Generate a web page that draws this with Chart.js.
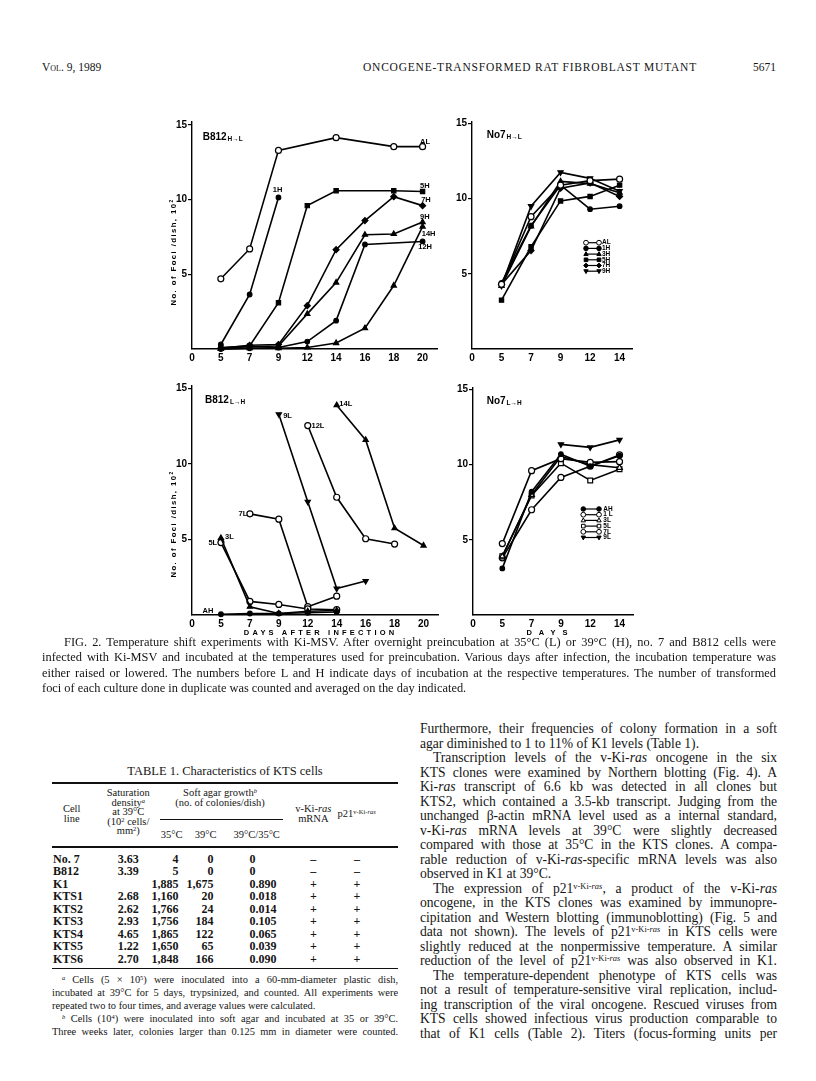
<!DOCTYPE html>
<html><head><meta charset="utf-8">
<script src="https://cdn.jsdelivr.net/npm/chart.js@4.4.0/dist/chart.umd.min.js"></script>
<style>
html,body{margin:0;padding:0;background:#fff;}
#page{position:relative;width:816px;height:1081px;overflow:hidden;background:#fff;color:#151515;font-family:'Liberation Serif','Times New Roman',serif;}
.t{position:absolute;white-space:nowrap;}
canvas{position:absolute;}
.ax{position:absolute;white-space:nowrap;font-family:'Liberation Sans',Arial,sans-serif;font-weight:bold;color:#000;}
.rule{position:absolute;background:#111;}
sup{font-size:62%;line-height:0;vertical-align:0.5em;}
</style></head><body><div id="page"></div>
<script>
const SANS = "'Liberation Sans', Arial, sans-serif";
Chart.defaults.font.family = SANS;
Chart.defaults.color = '#000';

// ---------- DATA ----------
const daysB812 = ['0','5','7','9','12','14','16','18','20'];
const daysNo7  = ['0','5','7','9','12','14'];

// B812 H->L  (days 5,7,9,12,14,16,18,20)
const b812HL_AL  = [4.7, 6.7, 13.3, null, 14.15, null, 13.55, 13.55];
const b812HL_1H  = [0.3, 3.65, 10.15, null, null, null, null, null];
const b812HL_5H  = [0.1, 0.2, 3.1, 9.6, 10.6, null, 10.6, 10.55];
const b812HL_7H  = [0.05, 0.25, 0.3, 2.9, 6.65, 8.6, 10.2, 9.6];
const b812HL_9H  = [0.05, 0.15, 0.2, 2.35, 4.45, 7.65, 7.7, 8.5];
const b812HL_12H = [0.0, 0.05, 0.1, 0.5, 1.9, 7.0, null, 7.2];
const b812HL_14H = [0.0, 0.05, 0.05, 0.1, 0.4, 1.4, 4.25, 8.2];

// No7 H->L (days 5,7,9,12,14)
const no7HL_AL = [4.3, 8.8, 10.9, 11.2, 11.3];
const no7HL_1H = [4.4, 8.2, 10.9, 9.3, 9.5];
const no7HL_3H = [4.2, 8.15, 11.15, 11.0, 10.4];
const no7HL_5H = [3.25, 6.8, 9.85, 10.15, 10.9];
const no7HL_7H = [4.3, 6.55, 10.7, 11.05, 10.15];
const no7HL_9H = [4.2, 9.5, 11.75, 11.35, 10.5];

// B812 L->H (days 5,7,9,12,14,16,18,20)
const b812LH_AH  = [0.05, 0.1, 0.1, 0.15, 0.2, null, null, null];
const b812LH_3L  = [5.1, 0.55, 0.1, 0.25, 0.3, null, null, null];
const b812LH_5L  = [4.8, 0.9, 0.7, 0.4, 0.35, null, null, null];
const b812LH_7L  = [null, 6.7, 6.35, 0.55, 1.25, null, null, null];
const b812LH_9L  = [null, null, 13.3, 7.5, 1.75, 2.25, null, null];
const b812LH_12L = [null, null, null, 12.55, 7.8, 5.05, 4.7, null];
const b812LH_14L = [null, null, null, null, 13.9, 11.6, 5.75, 4.6];

// No7 L->H (days 5,7,9,12,14)
const no7LH_AH = [3.1, 8.2, 10.7, 9.9, 10.6];
const no7LH_1L = [4.75, 9.6, 10.4, 10.15, 10.2];
const no7LH_3L = [3.9, 8.0, 10.55, 10.0, 9.8];
const no7LH_5L = [3.9, 7.95, 10.1, 8.95, 9.7];
const no7LH_7L = [3.8, 7.0, 9.15, 9.9, 10.65];
const no7LH_9L = [null, null, 11.35, 11.15, 11.65];

const yTickStep = 5;

// ---------- helpers ----------
const page = document.getElementById('page');
const MK = {
  oc:{pointStyle:'circle', fill:'#fff', r:3},
  fc:{pointStyle:'circle', fill:'#000', r:2.3},
  ft:{pointStyle:'triangle', fill:'#000', r:3},
  fs:{pointStyle:'rect', fill:'#000', r:3},
  fd:{pointStyle:'rectRot', fill:'#000', r:3},
  fi:{pointStyle:'triangle', fill:'#000', r:3, rot:180},
  os:{pointStyle:'rect', fill:'#fff', r:3.4},
  ot:{pointStyle:'triangle', fill:'#fff', r:3.2}
};
function pts(vals){ return vals.map((v,i)=>({x:i+1, y:v})); }
function dataset(vals, mk){
  const m = MK[mk];
  return {data:pts(vals), borderColor:'#000', borderWidth:1.6, pointStyle:m.pointStyle,
    pointRadius:m.r, pointRotation:m.rot||0, pointBackgroundColor:m.fill, pointBorderColor:'#000',
    pointBorderWidth:1.2, spanGaps:true, tension:0, fill:false, clip:false};
}
function drawMarker(ctx, m, x, y, r){
  ctx.beginPath();
  const st = m.pointStyle;
  if (st==='circle') ctx.arc(x,y,r,0,Math.PI*2);
  else if (st==='rect'){ const s=r*0.75; ctx.rect(x-s,y-s,2*s,2*s); }
  else if (st==='rectRot'){ ctx.moveTo(x,y-r);ctx.lineTo(x+r,y);ctx.lineTo(x,y+r);ctx.lineTo(x-r,y);ctx.closePath(); }
  else if (st==='triangle'){ const d = m.rot ? -1 : 1; ctx.moveTo(x,y-d*r); ctx.lineTo(x+r*0.9,y+d*r*0.6); ctx.lineTo(x-r*0.9,y+d*r*0.6); ctx.closePath(); }
  ctx.fillStyle = m.fill; ctx.fill(); ctx.lineWidth = 1; ctx.strokeStyle = '#000'; ctx.stroke();
}
const panelDeco = {
  id:'panelDeco',
  afterDraw(chart, args, o){
    const {ctx, chartArea:a, scales:{x, y}} = chart;
    ctx.save();
    ctx.fillStyle = '#000'; ctx.textBaseline = 'middle';
    if (o.title){
      ctx.textAlign = 'left';
      ctx.font = 'bold 10px ' + SANS;
      const tx = a.left + o.tdx, ty = a.top + o.tdy;
      ctx.fillText(o.title[0], tx, ty);
      const w = ctx.measureText(o.title[0]).width;
      ctx.font = 'bold 6.5px ' + SANS;
      ctx.fillText(o.title[1], tx + w + 1, ty + 1.8);
    }
    ctx.font = 'bold 7.5px ' + SANS;
    (o.labels||[]).forEach(l=>{
      ctx.fillStyle = '#000';
      ctx.textAlign = l.a || 'left';
      ctx.fillText(l.t, x.getPixelForValue(l.x), y.getPixelForValue(l.y));
    });
    if (o.legend){
      const L = o.legend;
      ctx.font = 'bold 6.5px ' + SANS;
      L.items.forEach((it,i)=>{
        const yy = a.top + L.y0 + i*L.dy;
        ctx.beginPath(); ctx.strokeStyle='#000'; ctx.lineWidth=1.2;
        ctx.moveTo(a.left+L.x0, yy); ctx.lineTo(a.left+L.x1, yy); ctx.stroke();
        const m = MK[it.m];
        drawMarker(ctx, m, a.left+L.x0, yy, Math.min(m.r, 2.4));
        drawMarker(ctx, m, a.left+L.x1, yy, Math.min(m.r, 2.4));
        ctx.fillStyle='#000'; ctx.textAlign='left';
        ctx.fillText(it.t, a.left+L.xt, yy);
      });
    }
    ctx.restore();
  }
};
function panel(p){
  const c = document.createElement('canvas');
  c.width = p.w; c.height = p.h;
  c.style.left = p.left+'px'; c.style.top = p.top+'px';
  c.style.width = p.w+'px'; c.style.height = p.h+'px';
  page.appendChild(c);
  new Chart(c, {
    type:'line',
    data:{datasets:p.series.map(s=>dataset(s.v, s.m))},
    options:{
      responsive:false, animation:false, devicePixelRatio:1, events:[],
      layout:{padding:{left:0, top:p.padTop, right:p.padRight, bottom:0}},
      plugins:{legend:{display:false}, tooltip:{enabled:false}, panelDeco:p.deco},
      scales:{
        x:{type:'linear', min:0, max:p.xMax, afterFit:s=>{s.height=p.xH;},
           grid:{display:false, drawTicks:false},
           border:{display:true, color:'#000', width:1.4},
           ticks:{stepSize:1, autoSkip:false, includeBounds:false, maxRotation:0, minRotation:0, padding:3,
             color:'#000', font:{size:10, weight:'bold'},
             callback:v=>(Number.isInteger(v) && p.days[v]!==undefined) ? p.days[v] : ''}},
        y:{type:'linear', min:0, max:p.yMax, afterFit:s=>{s.width=p.yW;},
           grid:{drawOnChartArea:false, drawTicks:true, tickLength:4, lineWidth:1.2,
             color:ctx=>(ctx.tick && ctx.tick.value===0) ? 'rgba(0,0,0,0)' : '#000'},
           border:{display:true, color:'#000', width:1.4},
           ticks:{stepSize:yTickStep, includeBounds:false, padding:1, color:'#000', font:{size:10, weight:'bold'},
             callback:v=>v===0 ? '' : String(v)}}
      }
    },
    plugins:[panelDeco]
  });
}

// ---------- PANELS ----------
panel({left:160, top:110, w:290, h:262, yW:32, xH:23, padTop:12, padRight:13, xMax:8.5, yMax:15.2, days:daysB812,
  series:[{v:b812HL_AL,m:'oc'},{v:b812HL_1H,m:'fc'},{v:b812HL_5H,m:'fs'},{v:b812HL_7H,m:'fd'},
          {v:b812HL_9H,m:'ft'},{v:b812HL_12H,m:'fc'},{v:b812HL_14H,m:'ft'}],
  deco:{title:['B812','H\u2192L'], tdx:10.7, tdy:15,
    labels:[{t:'AL',x:7.91,y:13.88},{t:'1H',x:2.8,y:10.65},{t:'5H',x:7.91,y:10.92},{t:'7H',x:7.95,y:9.98},
            {t:'9H',x:7.91,y:8.82},{t:'14H',x:7.97,y:7.68},{t:'12H',x:7.85,y:6.81}]}});

panel({left:445, top:110, w:215, h:262, yW:27, xH:23, padTop:12, padRight:28, xMax:5.42, yMax:15.1, days:daysNo7,
  series:[{v:no7HL_AL,m:'oc'},{v:no7HL_1H,m:'fc'},{v:no7HL_3H,m:'ft'},{v:no7HL_5H,m:'fs'},
          {v:no7HL_7H,m:'fd'},{v:no7HL_9H,m:'fi'}],
  deco:{title:['No7','H\u2192L'], tdx:14.7, tdy:13.5,
    legend:{x0:114, x1:127, xt:130, y0:120.7, dy:5.7,
      items:[{t:'AL',m:'oc'},{t:'1H',m:'fc'},{t:'3H',m:'ft'},{t:'5H',m:'fs'},{t:'7H',m:'fd'},{t:'9H',m:'fi'}]}}});

panel({left:160, top:376, w:290, h:262, yW:32, xH:23, padTop:10, padRight:12, xMax:8.5, yMax:15.17, days:daysB812,
  series:[{v:b812LH_AH,m:'fc'},{v:b812LH_3L,m:'ft'},{v:b812LH_5L,m:'oc'},{v:b812LH_7L,m:'oc'},
          {v:b812LH_9L,m:'fi'},{v:b812LH_12L,m:'oc'},{v:b812LH_14L,m:'ft'}],
  deco:{title:['B812','L\u2192H'], tdx:13, tdy:14.5,
    labels:[{t:'9L',x:3.15,y:13.2},{t:'12L',x:4.13,y:12.54},{t:'14L',x:5.09,y:13.95},
            {t:'7L',x:1.91,y:6.67,a:'right'},{t:'5L',x:0.87,y:4.75,a:'right'},{t:'3L',x:1.14,y:5.15},
            {t:'AH',x:0.74,y:0.28,a:'right'}]}});

panel({left:445, top:376, w:215, h:262, yW:28, xH:23, padTop:12, padRight:27, xMax:5.46, yMax:15.1, days:daysNo7,
  series:[{v:no7LH_AH,m:'fc'},{v:no7LH_1L,m:'oc'},{v:no7LH_3L,m:'ot'},{v:no7LH_5L,m:'os'},
          {v:no7LH_7L,m:'oc'},{v:no7LH_9L,m:'fi'}],
  deco:{title:['No7','L\u2192H'], tdx:13.7, tdy:13.5,
    legend:{x0:110.3, x1:126, xt:130.3, y0:121, dy:5.7,
      items:[{t:'AH',m:'fc'},{t:'1 L',m:'oc'},{t:'3L',m:'ot'},{t:'5L',m:'os'},{t:'7L',m:'oc'},{t:'9L',m:'fi'}]}}});

// axis titles
function yTitle(cx, cy){
  const d = document.createElement('div'); d.className='ax';
  d.style.fontSize='7.8px'; d.style.letterSpacing='1.4px';
  d.style.left=cx+'px'; d.style.top=cy+'px';
  d.style.transform='translate(-50%,-50%) rotate(-90deg)';
  d.innerHTML='No. of Foci /dish, 10<sup>2</sup>';
  page.appendChild(d);
}
function xTitle(txt, cx, cy, ls){
  const d = document.createElement('div'); d.className='ax';
  d.style.fontSize='7.5px'; d.style.letterSpacing=ls+'px';
  d.style.paddingLeft=ls+'px';
  d.style.left=cx+'px'; d.style.top=cy+'px';
  d.style.transform='translate(-50%,-50%)';
  d.textContent=txt; page.appendChild(d);
}
yTitle(173, 252); yTitle(173, 524);
xTitle('DAYS AFTER INFECTION', 319, 632, 3.2);
xTitle('DAYS', 547, 632, 7);

// ---------- PAGE TEXT ----------
function T(html, x, yc, fs, o){
  o = o || {};
  const d = document.createElement('div'); d.className='t';
  d.style.fontSize = fs+'px';
  const lh = Math.round(fs*1.2);
  d.style.lineHeight = lh+'px';
  d.style.top = (yc - lh/2)+'px';
  if (o.bold) d.style.fontWeight='bold';
  if (o.sc) d.style.fontVariant='small-caps';
  d.innerHTML = html;
  page.appendChild(d);
  const w = d.getBoundingClientRect().width;
  let left = x;
  if (o.w){
    const n = (d.textContent.match(/ /g)||[]).length;
    if (n) d.style.wordSpacing = ((o.w - w)/n)+'px';
  } else if (o.fit){
    const n = d.textContent.length;
    d.style.letterSpacing = ((o.fit - w)/n)+'px';
  } else if (o.align==='center') left = x - w/2;
  else if (o.align==='right') left = x - w;
  d.style.left = left+'px';
  return d;
}
function rule(x1, x2, y, h){
  const r = document.createElement('div'); r.className='rule';
  r.style.left=x1+'px'; r.style.width=(x2-x1)+'px'; r.style.top=(y-h/2)+'px'; r.style.height=h+'px';
  page.appendChild(r);
}

// header
T('Vol. 9, 1989', 42, 67, 11.5, {sc:true});
T('ONCOGENE-TRANSFORMED RAT FIBROBLAST MUTANT', 363, 67, 11.5, {fit:334});
T('5671', 776, 67, 11.5, {align:'right'});

// caption
const capLines = [
  'FIG. 2. Temperature shift experiments with Ki-MSV. After overnight preincubation at 35°C (L) or 39°C (H), no. 7 and B812 cells were',
  'infected with Ki-MSV and incubated at the temperatures used for preincubation. Various days after infection, the incubation temperature was',
  'either raised or lowered. The numbers before L and H indicate days of incubation at the respective temperatures. The number of transformed',
  'foci of each culture done in duplicate was counted and averaged on the day indicated.'
];
const cf = 12.4;
T(capLines[0], 64, 642, cf, {w:712});
T(capLines[1], 42, 657.5, cf, {w:734});
T(capLines[2], 42, 673, cf, {w:734});
T(capLines[3], 42, 688.5, cf);

// table
T('TABLE 1. Characteristics of KTS cells', 225, 771, 12.5, {align:'center'});
rule(52, 398, 783, 1.6);
const hf = 10.5;
T('Cell', 71.7, 808, hf, {align:'center'}); T('line', 71.7, 818, hf, {align:'center'});
T('Saturation', 128.3, 792, hf, {align:'center'});
T('density<sup><i>a</i></sup>', 128.3, 802, hf, {align:'center'});
T('at 39°C', 128.3, 811.5, hf, {align:'center'});
T('(10<sup>2</sup> cells/', 128.3, 821, hf, {align:'center'});
T('mm<sup>2</sup>)', 128.3, 830.5, hf, {align:'center'});
T('Soft agar growth<sup><i>b</i></sup>', 220, 792, hf, {align:'center'});
T('(no. of colonies/dish)', 220, 802, hf, {align:'center'});
rule(160, 283, 819, 1);
T('35°C', 171.7, 834, hf, {align:'center'});
T('39°C', 205.7, 834, hf, {align:'center'});
T('39°C/35°C', 256.7, 834, hf, {align:'center'});
T('v-Ki-<i>ras</i>', 313.3, 808, hf, {align:'center'});
T('mRNA', 313.3, 818, hf, {align:'center'});
T('p21<sup>v-Ki-<i>ras</i></sup>', 356.7, 813, hf, {align:'center'});
rule(52, 398, 847, 1.2);

const cellLines = ['No. 7','B812','K1','KTS1','KTS2','KTS3','KTS4','KTS5','KTS6'];
const satDensity = ['3.63','3.39','','2.68','2.62','2.93','4.65','1.22','2.70'];
const agar35 = ['4','5','1,885','1,160','1,766','1,756','1,865','1,650','1,848'];
const agar39 = ['0','0','1,675','20','24','184','122','65','166'];
const agarRatio = ['0','0','0.890','0.018','0.014','0.105','0.065','0.039','0.090'];
const mRNA = ['\u2013','\u2013','+','+','+','+','+','+','+'];
const p21 = ['\u2013','\u2013','+','+','+','+','+','+','+'];
const rf = 12;
cellLines.forEach((c,i)=>{
  const y = 858.5 + i*12.5;
  T(c, 53, y, rf, {bold:true});
  if (satDensity[i]) T(satDensity[i], 128.3, y, rf, {bold:true, align:'center'});
  T(agar35[i], 178.5, y, rf, {bold:true, align:'right'});
  T(agar39[i], 213.5, y, rf, {bold:true, align:'right'});
  T(agarRatio[i], 249.5, y, rf, {bold:true});
  T(mRNA[i], 313.3, y, rf, {bold:true, align:'center'});
  T(p21[i], 357, y, rf, {bold:true, align:'center'});
});
rule(52, 398, 968.5, 1.6);

const fnf = 10.4;
T('<sup><i>a</i></sup> Cells (5 × 10<sup>5</sup>) were inoculated into a 60-mm-diameter plastic dish,', 62, 979.5, fnf, {w:336});
T('incubated at 39°C for 5 days, trypsinized, and counted. All experiments were', 52, 992.5, fnf, {w:346});
T('repeated two to four times, and average values were calculated.', 52, 1005.5, fnf);
T('<sup><i>b</i></sup> Cells (10<sup>4</sup>) were inoculated into soft agar and incubated at 35 or 39°C.', 62, 1018.5, fnf, {w:336});
T('Three weeks later, colonies larger than 0.125 mm in diameter were counted.', 52, 1031.5, fnf, {w:346});

// right column
const P = 'p21<sup>v-Ki-<i>ras</i></sup>';
const body = [
  ['Furthermore, their frequencies of colony formation in a soft', 0, 1],
  ['agar diminished to 1 to 11% of K1 levels (Table 1).', 0, 0],
  ['Transcription levels of the v-Ki-<i>ras</i> oncogene in the six', 1, 1],
  ['KTS clones were examined by Northern blotting (Fig. 4). A', 0, 1],
  ['Ki-<i>ras</i> transcript of 6.6 kb was detected in all clones but', 0, 1],
  ['KTS2, which contained a 3.5-kb transcript. Judging from the', 0, 1],
  ['unchanged β-actin mRNA level used as a internal standard,', 0, 1],
  ['v-Ki-<i>ras</i> mRNA levels at 39°C were slightly decreased', 0, 1],
  ['compared with those at 35°C in the KTS clones. A compa-', 0, 1],
  ['rable reduction of v-Ki-<i>ras</i>-specific mRNA levels was also', 0, 1],
  ['observed in K1 at 39°C.', 0, 0],
  ['The expression of ' + P + ', a product of the v-Ki-<i>ras</i>', 1, 1],
  ['oncogene, in the KTS clones was examined by immunopre-', 0, 1],
  ['cipitation and Western blotting (immunoblotting) (Fig. 5 and', 0, 1],
  ['data not shown). The levels of ' + P + ' in KTS cells were', 0, 1],
  ['slightly reduced at the nonpermissive temperature. A similar', 0, 1],
  ['reduction of the level of ' + P + ' was also observed in K1.', 0, 1],
  ['The temperature-dependent phenotype of KTS cells was', 1, 1],
  ['not a result of temperature-sensitive viral replication, includ-', 0, 1],
  ['ing transcription of the viral oncogene. Rescued viruses from', 0, 1],
  ['KTS cells showed infectious virus production comparable to', 0, 1],
  ['that of K1 cells (Table 2). Titers (focus-forming units per', 0, 1]
];
body.forEach((b,i)=>{
  const y = 729 + i*14.5;
  const x = b[1] ? 433 : 420;
  T(b[0], x, y, 13.6, b[2] ? {w:777 - x} : {});
});
</script></body></html>
